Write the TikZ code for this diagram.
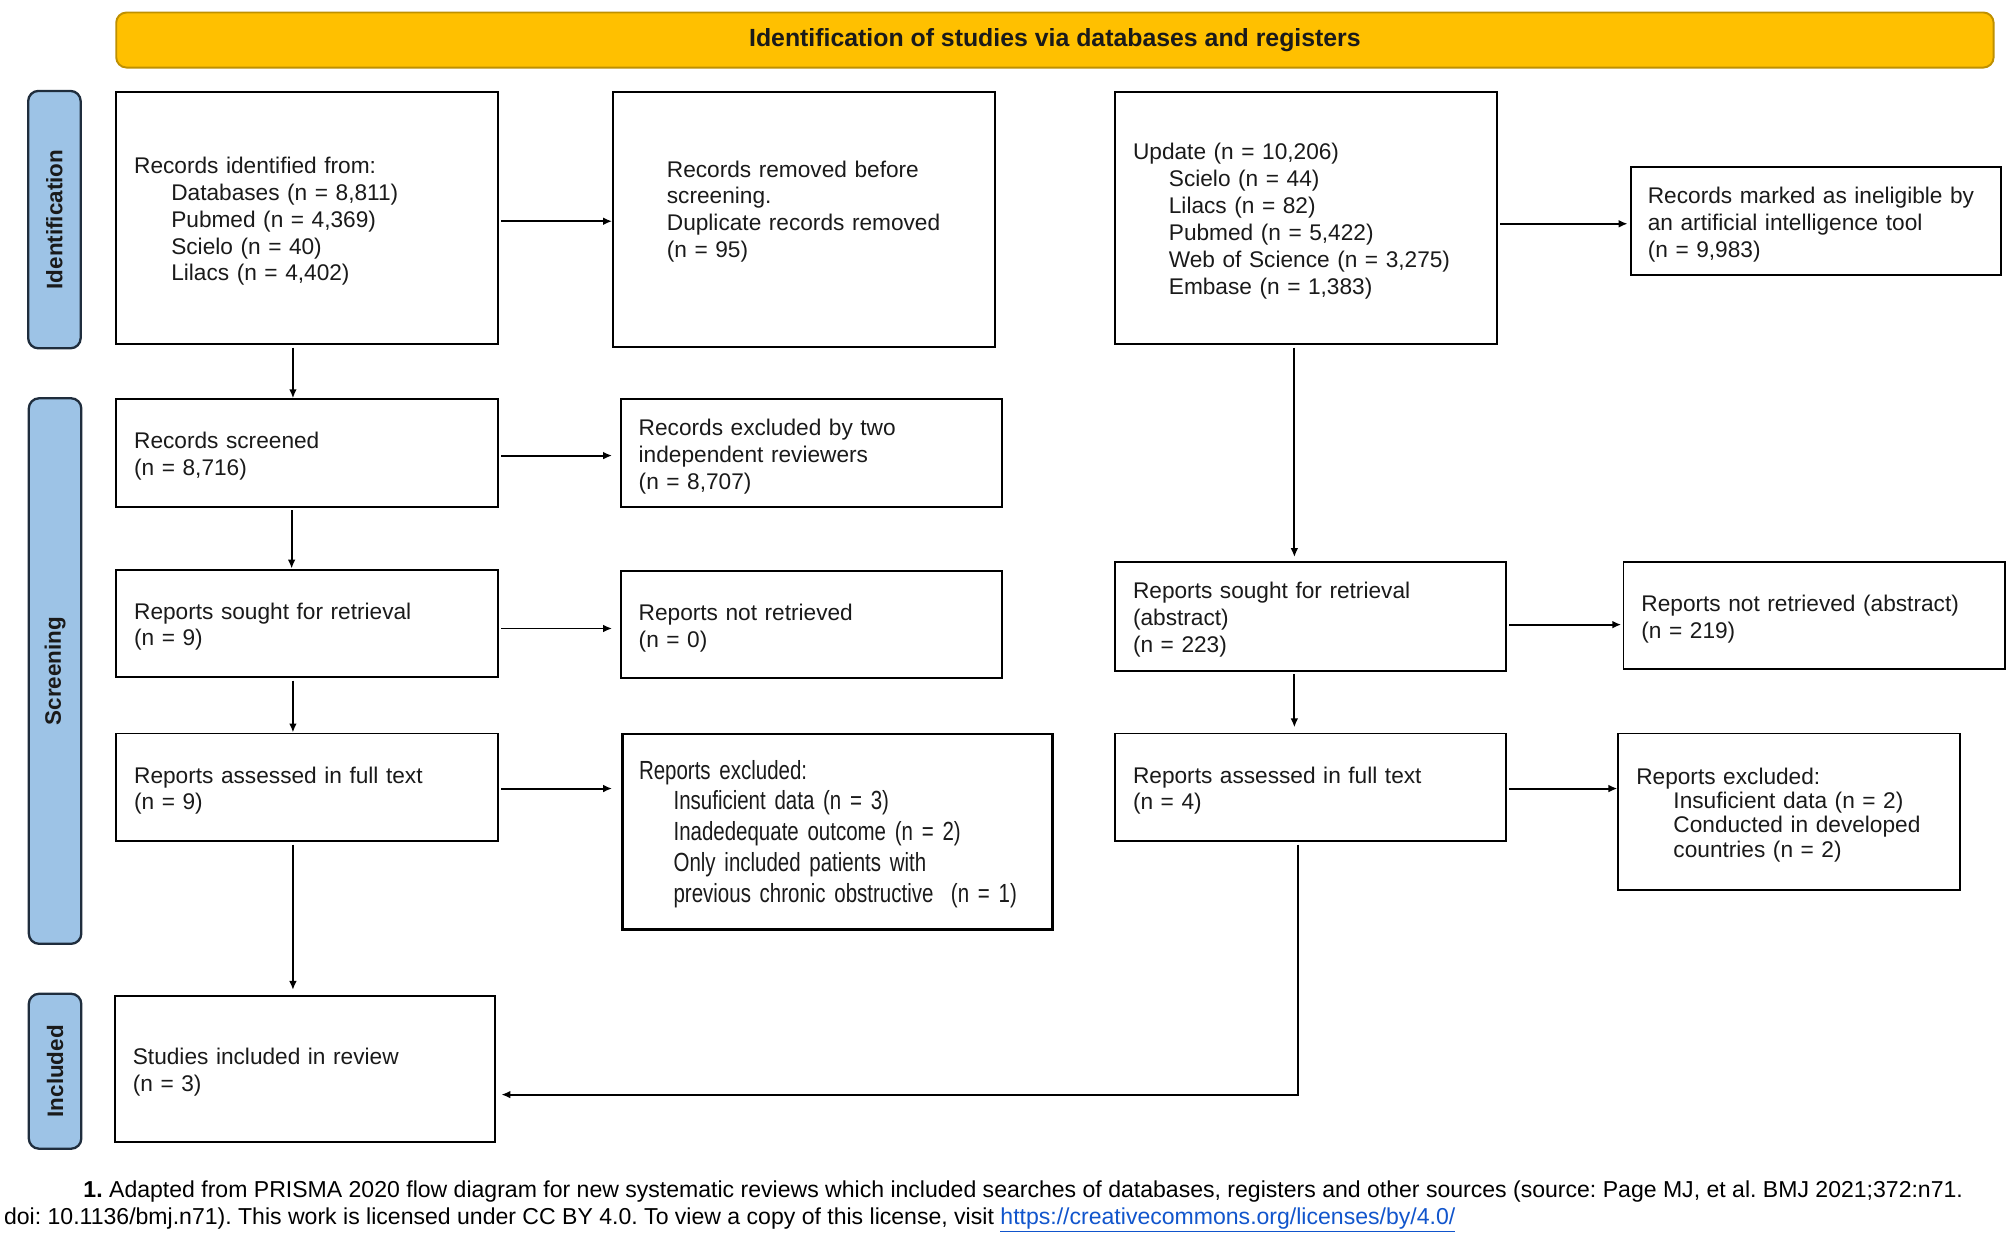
\documentclass[tikz,border=0pt]{standalone}
\usepackage{fontspec}
\setmainfont{Liberation Sans}
\newfontfamily\narrowfont[FakeStretch=0.78]{Liberation Sans}
\usetikzlibrary{arrows.meta}
\definecolor{bannerfill}{HTML}{FFC000}
\definecolor{bannerdraw}{HTML}{BF9000}
\definecolor{sidefill}{HTML}{9DC3E6}
\definecolor{sidedraw}{HTML}{1F2D3D}
\definecolor{linkblue}{HTML}{1155CC}
\definecolor{txt}{HTML}{1A1A1A}
\newcommand{\myind}{\hspace*{29pt}}
\frenchspacing
\begin{document}
\begin{tikzpicture}[x=1pt,y=-1pt,
  box/.style={draw=black, line width=1.5pt, fill=white, align=left, inner xsep=14pt, inner ysep=0pt,
    anchor=north west, font=\fontsize{17.7}{21}\selectfont, text=txt,
    execute at begin node={\rule{0pt}{18pt}}},
  side/.style={draw=sidedraw, fill=sidefill, line width=1.8pt, rounded corners=8pt, minimum height=41pt,
    inner sep=0pt, font=\fontsize{17.5}{20}\selectfont\bfseries, rotate=90, text=txt},
  arr/.style={line width=1.5pt, draw=black, -{Latex[length=7pt,width=6pt]}, shorten <=2pt},
  foot/.style={anchor=base west, inner sep=0pt, font=\fontsize{18}{21}\selectfont, text=black}]
\useasboundingbox (0,0) rectangle (1568,964);

% banner
\node (ban) [draw=bannerdraw, fill=bannerfill, line width=1.5pt, rounded corners=8pt, anchor=north west,
  minimum width=1466pt, minimum height=43pt, inner sep=0pt, font=\fontsize{19.4}{21}\selectfont\bfseries, text=txt]
  at (90,9) {Identification of studies via databases and registers};

% side bars
\node (sid) [side, minimum width=201pt] at (42.5,171.5) {Identification};
\node (sscr) [side, minimum width=426pt] at (43,524) {Screening};
\node (sinc) [side, minimum width=121pt] at (43,836.5) {Included};

% left column
\node (A) [box, minimum height=197pt, text width=270pt] at (90,71)
  {Records identified from:\\\myind Databases (n = 8,811)\\\myind Pubmed (n = 4,369)\\\myind Scielo (n = 40)\\\myind Lilacs (n = 4,402)};
\node (B) [box, minimum height=199pt, text width=270pt] at (478,71)
  {\hspace*{28pt}Records removed before\\\hspace*{28pt}screening.\\\hspace*{28pt}Duplicate records removed\\\hspace*{28pt}(n = 95)\\\mbox{}};
\node (C) [box, minimum height=84pt, text width=270pt] at (90,311)
  {Records screened\\(n = 8,716)};
\node (D) [box, minimum height=84pt, text width=270pt] at (484,311)
  {Records excluded by two\\independent reviewers\\(n = 8,707)};
\node (E) [box, minimum height=84pt, text width=270pt] at (90,444)
  {Reports sought for retrieval\\(n = 9)};
\node (F) [box, minimum height=84pt, text width=270pt] at (484,445)
  {Reports not retrieved\\(n = 0)};
\node (G) [box, minimum height=84pt, text width=270pt] at (90,572)
  {Reports assessed in full text\\(n = 9)};
\node (H) [box, line width=2pt, minimum height=153pt, text width=310pt, inner xsep=13pt,
  font=\narrowfont\fontsize{20.5}{24}\selectfont] at (485,572)
  {Reports excluded:\\\hspace*{27pt}Insuficient data (n = 3)\\\hspace*{27pt}Inadedequate outcome (n = 2)\\\hspace*{27pt}Only included patients with\\\hspace*{27pt}previous chronic obstructive\ \ (n = 1)};
\node (I) [box, minimum height=114pt, text width=269pt] at (89,777)
  {Studies included in review\\(n = 3)};

% right column
\node (J) [box, minimum height=197pt, text width=270pt] at (870,71)
  {Update (n = 10,206)\\\hspace*{28pt}Scielo (n = 44)\\\hspace*{28pt}Lilacs (n = 82)\\\hspace*{28pt}Pubmed (n = 5,422)\\\hspace*{28pt}Web of Science (n = 3,275)\\\hspace*{28pt}Embase (n = 1,383)};
\node (K) [box, minimum height=84pt, text width=263pt, inner xsep=13pt] at (1273,130)
  {Records marked as ineligible by\\an artificial intelligence tool\\(n = 9,983)};
\node (L) [box, minimum height=85pt, text width=277pt] at (870,438)
  {Reports sought for retrieval\\(abstract)\\(n = 223)};
\node (M) [box, minimum height=84pt, text width=270pt] at (1267,438)
  {Reports not retrieved (abstract)\\(n = 219)};
\node (N) [box, minimum height=84pt, text width=277pt] at (870,572)
  {Reports assessed in full text\\(n = 4)};
\node (O) [box, minimum height=122pt, text width=239pt, font=\fontsize{17.7}{19}\selectfont] at (1263,572)
  {Reports excluded:\\\myind Insuficient data (n = 2)\\\myind Conducted in developed\\\myind countries (n = 2)};

% connectors
\draw[arr] ([yshift=-2.5pt]A.east) -- ([yshift=-2.5pt]A.east -| B.west);
\draw[arr] ([xshift=-11pt]A.south) -- ([xshift=-11pt]A.south |- C.north);
\draw[arr, shorten >=6pt] ([yshift=-2pt]C.east) -- ([yshift=-2pt]C.east -| D.west);
\draw[arr] ([xshift=-12pt]C.south) -- ([xshift=-12pt]C.south |- E.north);
\draw[arr, shorten >=6pt] ([yshift=-4pt]E.east) -- ([yshift=-4pt]E.east -| F.west);
\draw[arr] ([xshift=-11pt]E.south) -- ([xshift=-11pt]E.south |- G.north);
\draw[arr, shorten >=7pt] ([yshift=-1pt]G.east) -- ([yshift=-1pt]G.east -| H.west);
\draw[arr, shorten >=4pt] ([xshift=-11pt]G.south) -- ([xshift=-11pt]G.south |- I.north);
\draw[arr, shorten >=2pt] ([yshift=-4.5pt]J.east) -- ([yshift=-4.5pt]J.east -| K.west);
\draw[arr, shorten >=3pt] ([xshift=-9pt]J.south) -- ([xshift=-9pt]J.south |- L.north);
\draw[arr, shorten >=1pt] ([yshift=-6.5pt]L.east) -- ([yshift=-6.5pt]L.east -| M.west);
\draw[arr, shorten >=4pt] ([xshift=-12.5pt]L.south) -- ([xshift=-12.5pt]L.south |- N.north);
\draw[arr] ([yshift=-1pt]N.east) -- ([yshift=-1pt]N.east -| O.west);
\draw[arr, shorten >=4pt] ([xshift=-9.5pt]N.south) |- ([yshift=-20pt]I.east);

% footer
\node (f1) [foot] at (65,935) {\textbf{1.} Adapted from PRISMA 2020 flow diagram for new systematic reviews which included searches of databases, registers and other sources (source: Page MJ, et al. BMJ 2021;372:n71.};
\node (f2) [foot] at (3,956) {doi: 10.1136/bmj.n71). This work is licensed under CC BY 4.0. To view a copy of this license, visit \textcolor{linkblue}{\underline{https://creativecommons.org/licenses/by/4.0/}}};
\end{tikzpicture}
\end{document}
